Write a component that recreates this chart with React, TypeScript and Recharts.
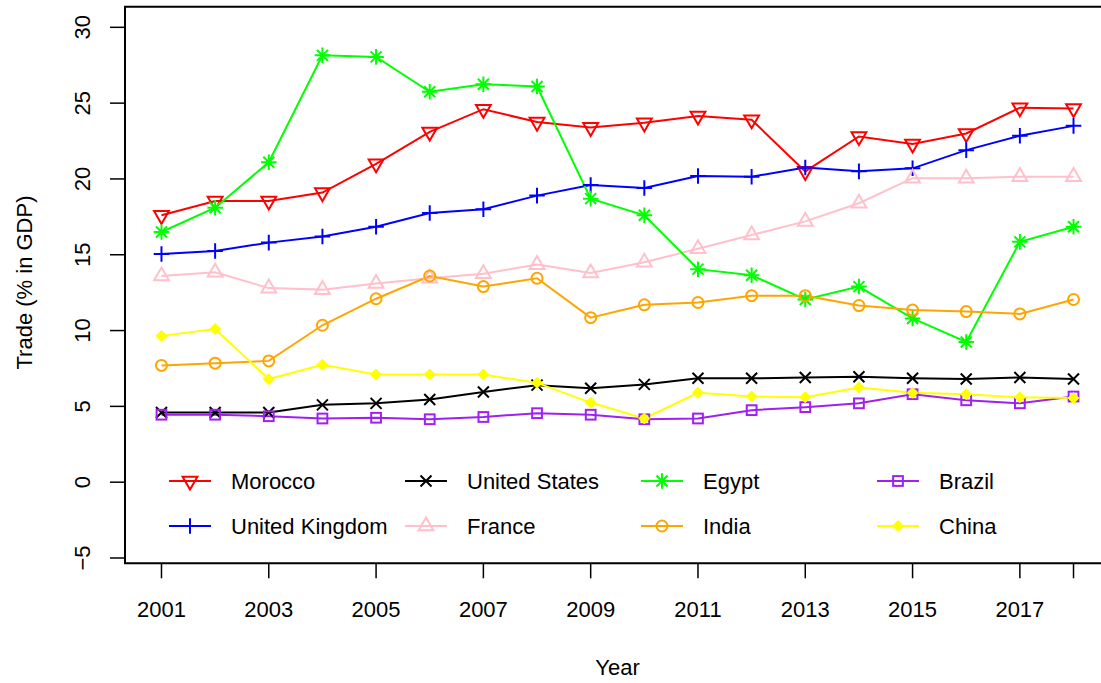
import React from "react";
import { LineChart, Line, XAxis, YAxis, ReferenceArea, Customized } from "recharts";

// Trade as a share of GDP, 2001-2018
const years = [2001, 2002, 2003, 2004, 2005, 2006, 2007, 2008, 2009, 2010, 2011, 2012, 2013, 2014, 2015, 2016, 2017, 2018];
const morocco = [17.6, 18.55, 18.55, 19.1, 21.0, 23.1, 24.6, 23.75, 23.4, 23.7, 24.15, 23.9, 20.5, 22.8, 22.3, 23.0, 24.7, 24.65];
const unitedKingdom = [15.05, 15.25, 15.8, 16.2, 16.85, 17.75, 18.0, 18.9, 19.6, 19.4, 20.2, 20.15, 20.75, 20.5, 20.7, 21.9, 22.85, 23.5];
const unitedStates = [4.6, 4.6, 4.6, 5.1, 5.2, 5.45, 5.95, 6.4, 6.2, 6.45, 6.85, 6.85, 6.9, 6.95, 6.85, 6.8, 6.9, 6.8];
const france = [13.6, 13.85, 12.8, 12.7, 13.1, 13.45, 13.75, 14.35, 13.8, 14.5, 15.4, 16.3, 17.2, 18.4, 20.05, 20.05, 20.15, 20.15];
const egypt = [16.5, 18.1, 21.1, 28.15, 28.05, 25.75, 26.25, 26.1, 18.7, 17.6, 14.05, 13.65, 12.05, 12.9, 10.8, 9.25, 15.85, 16.85];
const india = [7.7, 7.85, 8.0, 10.35, 12.1, 13.6, 12.9, 13.45, 10.85, 11.7, 11.85, 12.3, 12.3, 11.65, 11.35, 11.25, 11.1, 12.05];
const brazil = [4.45, 4.45, 4.35, 4.2, 4.25, 4.15, 4.3, 4.55, 4.45, 4.15, 4.2, 4.75, 4.95, 5.2, 5.8, 5.4, 5.2, 5.65];
const china = [9.65, 10.1, 6.8, 7.75, 7.1, 7.1, 7.1, 6.55, 5.25, 4.2, 5.9, 5.65, 5.6, 6.25, 5.9, 5.8, 5.6, 5.55];

const xTicks = [2001, 2003, 2005, 2007, 2009, 2011, 2013, 2015, 2017, 2018];
const yTicks = [-5, 0, 5, 10, 15, 20, 25, 30];
const xDomain: [number, number] = [2000.32, 2018.68];
const yDomain: [number, number] = [-5.35, 31.36];

type Shape = "triDown" | "triUp" | "plus" | "cross" | "star" | "circle" | "square" | "diamond";

const series: { name: string; values: number[]; color: string; shape: Shape }[] = [
  { name: "Morocco", values: morocco, color: "#FF0000", shape: "triDown" },
  { name: "United Kingdom", values: unitedKingdom, color: "#0000FF", shape: "plus" },
  { name: "United States", values: unitedStates, color: "#000000", shape: "cross" },
  { name: "France", values: france, color: "#FFC0CB", shape: "triUp" },
  { name: "Egypt", values: egypt, color: "#00FF00", shape: "star" },
  { name: "India", values: india, color: "#FFA500", shape: "circle" },
  { name: "Brazil", values: brazil, color: "#A020F0", shape: "square" },
  { name: "China", values: china, color: "#FFFF00", shape: "diamond" },
];

const rows = years.map((year, i) => {
  const row: Record<string, number> = { year };
  series.forEach((s) => {
    row[s.name] = s.values[i];
  });
  return row;
});

const FONT = '"Liberation Sans", Arial, Helvetica, sans-serif';
const FONT_SIZE = 22;
const R = 5.5;
const SW = 2;

function Marker({ shape, cx, cy, color }: { shape: Shape; cx: number; cy: number; color: string }) {
  if (cx == null || cy == null || isNaN(cx) || isNaN(cy)) return null;
  const common = { stroke: color, strokeWidth: SW, fill: "none" };
  const p = Math.SQRT2 * R;
  switch (shape) {
    case "triDown":
      return (
        <polygon
          {...common}
          points={`${cx - 1.347 * R},${cy - 0.7775 * R} ${cx + 1.347 * R},${cy - 0.7775 * R} ${cx},${cy + 1.555 * R}`}
        />
      );
    case "triUp":
      return (
        <polygon
          {...common}
          points={`${cx - 1.347 * R},${cy + 0.7775 * R} ${cx + 1.347 * R},${cy + 0.7775 * R} ${cx},${cy - 1.555 * R}`}
        />
      );
    case "plus":
      return <path {...common} d={`M${cx - p},${cy}H${cx + p}M${cx},${cy - p}V${cy + p}`} />;
    case "cross":
      return <path {...common} d={`M${cx - R},${cy - R}L${cx + R},${cy + R}M${cx - R},${cy + R}L${cx + R},${cy - R}`} />;
    case "star":
      return (
        <path
          {...common}
          d={`M${cx - p},${cy}H${cx + p}M${cx},${cy - p}V${cy + p}M${cx - R},${cy - R}L${cx + R},${cy + R}M${cx - R},${cy + R}L${cx + R},${cy - R}`}
        />
      );
    case "circle":
      return <circle {...common} cx={cx} cy={cy} r={R} />;
    case "square": {
      const h = 0.886 * R;
      return <rect {...common} x={cx - h} y={cy - h} width={2 * h} height={2 * h} />;
    }
    case "diamond":
      return (
        <polygon
          fill={color}
          stroke={color}
          strokeWidth={1}
          points={`${cx - R},${cy} ${cx},${cy - R} ${cx + R},${cy} ${cx},${cy + R}`}
        />
      );
  }
  return null;
}

const dotFor = (shape: Shape, color: string) => (props: any) =>
  <Marker key={`${shape}-${props.index}`} shape={shape} cx={props.cx} cy={props.cy} color={color} />;

const XTick = (props: any) => {
  const { x, y, payload } = props;
  if (payload.value === 2018) return null;
  return (
    <text x={x} y={y + 38.5} textAnchor="middle" fontFamily={FONT} fontSize={FONT_SIZE} fill="#000">
      {payload.value}
    </text>
  );
};

const YTick = (props: any) => {
  const { x, y, payload } = props;
  const tx = x - 20;
  return (
    <text
      x={tx}
      y={y}
      transform={`rotate(-90, ${tx}, ${y})`}
      textAnchor="middle"
      fontFamily={FONT}
      fontSize={FONT_SIZE}
      fill="#000"
    >
      {payload.value === -5 ? "\u22125" : payload.value}
    </text>
  );
};

// legend columns: two entries stacked in each of four columns
const legendCols = [169, 405, 641, 877];
const legendRows = [481, 526];

const Annotations = () => (
  <g fontFamily={FONT} fontSize={FONT_SIZE} fill="#000">
    {series.map((s, i) => {
      const col = Math.floor(i / 2);
      const row = i % 2;
      const x0 = legendCols[col];
      const y0 = legendRows[row];
      return (
        <g key={s.name}>
          <line x1={x0} y1={y0} x2={x0 + 42} y2={y0} stroke={s.color} strokeWidth={SW} />
          <Marker shape={s.shape} cx={x0 + 21} cy={y0} color={s.color} />
          <text x={x0 + 62} y={y0 + 8}>
            {s.name}
          </text>
        </g>
      );
    })}
    <text x={617.5} y={675} textAnchor="middle">
      Year
    </text>
    <text x={31.5} y={282.5} textAnchor="middle" transform="rotate(-90, 31.5, 282.5)">
      Trade (% in GDP)
    </text>
  </g>
);

export default function App() {
  return (
    <div
      style={{
        position: "absolute",
        left: 0,
        top: 0,
        width: 1101,
        height: 683,
        overflow: "hidden",
        background: "#fff",
      }}
    >
      <LineChart width={1120} height={683} data={rows} margin={{ top: 6.7, right: 10, bottom: 0, left: 0 }}>
        <XAxis
          dataKey="year"
          type="number"
          domain={xDomain}
          ticks={xTicks}
          interval={0}
          allowDataOverflow
          tick={<XTick />}
          tickSize={15}
          tickMargin={0}
          tickLine={{ stroke: "#000", strokeWidth: 1.5 }}
          axisLine={false}
          height={119.7}
        />
        <YAxis
          type="number"
          domain={yDomain}
          ticks={yTicks}
          interval={0}
          allowDataOverflow
          tick={<YTick />}
          tickSize={15}
          tickMargin={0}
          tickLine={{ stroke: "#000", strokeWidth: 1.5 }}
          axisLine={false}
          width={125}
        />
        <ReferenceArea
          x1={xDomain[0]}
          x2={xDomain[1]}
          y1={yDomain[0]}
          y2={yDomain[1]}
          fill="none"
          fillOpacity={0}
          stroke="#000"
          strokeWidth={2}
          ifOverflow="visible"
        />
        {series.map((s) => (
          <Line
            key={s.name}
            dataKey={s.name}
            stroke={s.color}
            strokeWidth={SW}
            dot={dotFor(s.shape, s.color)}
            activeDot={false}
            isAnimationActive={false}
          />
        ))}
        <Customized component={Annotations} />
      </LineChart>
    </div>
  );
}
